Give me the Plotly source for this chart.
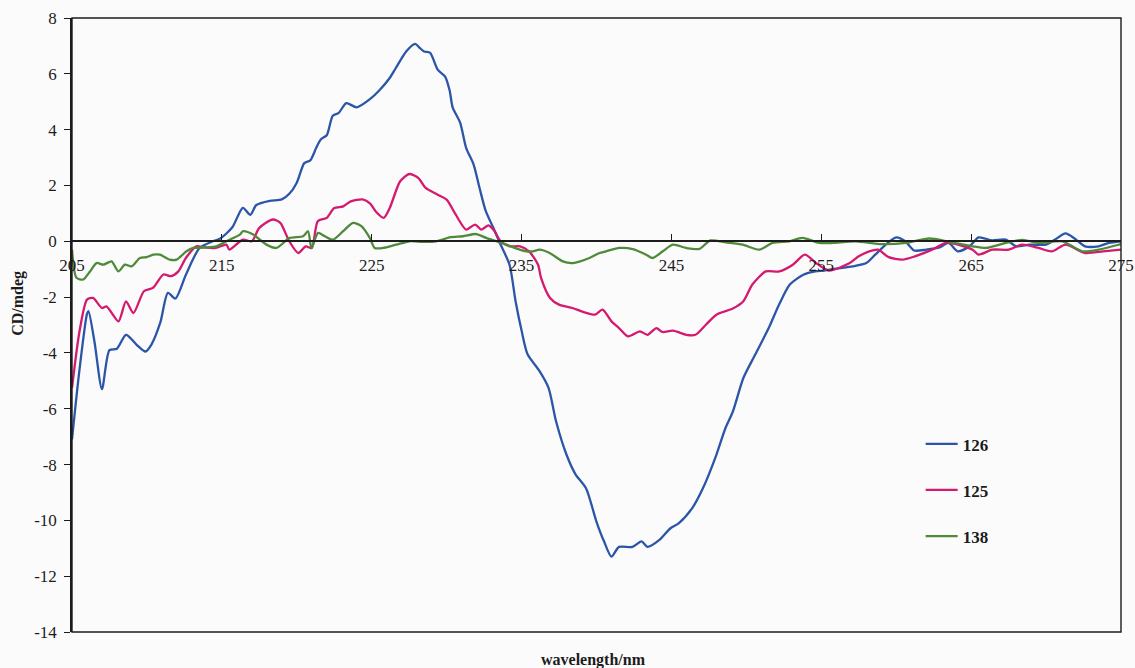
import plotly.graph_objects as go

# CD spectra of three samples (wavelength in nm, ellipticity in mdeg)
wl_126 = [205.0, 205.5, 206.0, 206.1, 206.5, 207.0, 207.5, 208.0, 208.6, 209.3, 209.9, 210.3, 210.9,
          211.4, 211.9, 212.6, 213.5, 214.4, 214.9, 215.7, 216.4, 216.9, 217.3, 218.2, 219.0, 219.5,
          220.0, 220.5, 220.9, 221.3, 221.6, 222.0, 222.4, 222.8, 223.3, 224.0, 224.9, 225.5, 226.2,
          226.6, 227.3, 227.9, 228.2, 228.5, 228.9, 229.4, 229.9, 230.2, 230.4, 230.9, 231.3, 231.8,
          232.2, 232.6, 233.1, 233.5, 234.2, 234.6, 235.0, 235.4, 236.2, 236.8, 237.3, 238.0, 238.6,
          239.3, 240.0, 240.5, 241.0, 241.5, 242.4, 243.0, 243.4, 244.2, 244.9, 245.5, 246.4, 247.1,
          248.0, 248.6, 249.1, 249.8, 250.6, 251.5, 252.2, 252.9, 253.8, 254.6, 255.2, 256.0, 257.1,
          258.0, 258.6, 259.3, 260.0, 260.6, 261.2, 262.0, 262.9, 263.5, 264.1, 264.9, 265.5, 266.4,
          267.3, 268.0, 268.9, 270.0, 270.6, 271.3, 272.0, 272.6, 273.5, 274.2, 275.0]
cd_126 = [-7.1, -4.6, -2.6, -2.5, -3.6, -5.3, -3.9, -3.85, -3.35, -3.7, -3.95, -3.7, -2.9,
          -1.85, -2.05, -1.2, -0.25, 0.0, 0.1, 0.5, 1.2, 0.95, 1.3, 1.45, 1.5, 1.7,
          2.1, 2.8, 2.9, 3.35, 3.65, 3.8, 4.5, 4.6, 4.95, 4.8, 5.1, 5.4, 5.85,
          6.2, 6.8, 7.07, 6.93, 6.8, 6.75, 6.15, 5.9, 5.4, 4.8, 4.25, 3.35, 2.75,
          1.9, 1.1, 0.5, 0.0, -0.85, -2.15, -3.2, -4.05, -4.65, -5.25, -6.45, -7.65, -8.35,
          -8.85, -10.05, -10.75, -11.3, -10.95, -10.95, -10.75, -10.95, -10.7, -10.3, -10.1, -9.55, -8.85,
          -7.65, -6.7, -6.1, -4.9, -4.05, -3.1, -2.25, -1.55, -1.2, -1.08, -1.05, -0.98, -0.9,
          -0.78, -0.48, -0.12, 0.14, 0.0, -0.33, -0.3, -0.22, -0.06, -0.36, -0.18, 0.14, 0.03,
          0.06, -0.18, -0.12, -0.12, 0.06, 0.28, 0.06, -0.18, -0.18, -0.06, 0.0]

wl_125 = [205.0, 205.5, 206.0, 206.4, 207.0, 207.3, 208.1, 208.6, 209.1, 209.8, 210.4, 211.1, 211.6,
          212.1, 212.6, 213.3, 213.8, 214.6, 215.3, 215.5, 216.4, 217.0, 217.5, 218.4, 218.9, 219.5,
          220.1, 220.6, 221.0, 221.4, 222.0, 222.5, 223.1, 223.6, 224.4, 224.9, 225.3, 225.8, 226.2,
          226.9, 227.5, 228.1, 228.6, 229.4, 230.0, 230.6, 231.3, 231.9, 232.3, 232.8, 233.2, 233.6,
          234.2, 234.9, 235.5, 236.1, 236.3, 236.9, 237.5, 238.4, 239.1, 239.9, 240.4, 241.0, 241.5,
          242.1, 242.9, 243.4, 244.0, 244.4, 245.1, 246.0, 246.6, 247.3, 248.0, 249.1, 249.8, 250.4,
          251.3, 252.2, 253.1, 253.9, 254.7, 255.5, 256.9, 257.5, 258.2, 258.8, 259.5, 260.4, 261.2,
          262.4, 263.3, 264.0, 265.1, 265.5, 266.4, 267.5, 268.4, 269.5, 270.4, 271.3, 272.6, 273.8,
          275.0]
cd_125 = [-5.25, -3.23, -2.09, -2.03, -2.39, -2.33, -2.87, -2.15, -2.57, -1.79, -1.67, -1.19, -1.25,
          -1.08, -0.6, -0.18, -0.22, -0.24, -0.12, -0.3, 0.06, 0.0, 0.48, 0.78, 0.66, 0.0,
          -0.42, -0.18, -0.24, 0.72, 0.84, 1.19, 1.25, 1.43, 1.5, 1.35, 1.05, 0.84, 1.19,
          2.15, 2.41, 2.27, 1.91, 1.67, 1.49, 0.96, 0.42, 0.6, 0.42, 0.57, 0.36, 0.0,
          -0.18, -0.18, -0.36, -0.84, -1.31, -2.03, -2.27, -2.39, -2.53, -2.63, -2.45, -2.87, -3.11,
          -3.41, -3.23, -3.35, -3.11, -3.25, -3.2, -3.35, -3.35, -2.99, -2.63, -2.41, -2.15, -1.55,
          -1.08, -1.08, -0.84, -0.48, -0.8, -1.05, -0.78, -0.54, -0.36, -0.3, -0.57, -0.66, -0.55,
          -0.3, -0.06, -0.1, -0.3, -0.48, -0.3, -0.3, -0.12, -0.24, -0.36, -0.12, -0.42, -0.36,
          -0.3]

wl_138 = [205.0, 205.3, 205.75, 206.2, 206.64, 207.09, 207.64, 208.09, 208.53, 208.98, 209.53, 209.98,
          210.42, 210.87, 211.53, 211.98, 212.64, 213.09, 213.98, 214.64, 215.31, 216.2, 216.42, 217.09,
          217.98, 218.64, 219.53, 220.42, 220.75, 220.98, 221.42, 221.87, 222.42, 223.09, 223.75, 224.31,
          224.87, 225.2, 225.75, 226.64, 227.53, 228.42, 229.31, 230.2, 231.09, 231.98, 232.64, 233.31,
          233.98, 234.87, 235.31, 235.75, 236.2, 236.87, 237.75, 238.42, 239.53, 240.2, 240.64, 241.53,
          242.42, 243.31, 243.75, 244.42, 245.09, 245.98, 246.87, 247.6, 248.64, 249.75, 250.87, 251.75,
          252.87, 253.75, 254.87, 255.75, 257.31, 258.87, 260.64, 262.2, 263.53, 265.09, 265.98, 267.31,
          268.42, 269.53, 271.09, 272.42, 273.53, 274.87, 275.0]
cd_138 = [-0.3, -1.31, -1.37, -1.08, -0.78, -0.84, -0.72, -1.08, -0.84, -0.9, -0.6, -0.57,
          -0.48, -0.48, -0.66, -0.66, -0.36, -0.24, -0.22, -0.18, 0.0, 0.24, 0.36, 0.24,
          -0.12, -0.24, 0.12, 0.18, 0.36, -0.24, 0.3, 0.18, 0.06, 0.36, 0.66, 0.54,
          0.12, -0.24, -0.24, -0.12, 0.0, -0.02, 0.0, 0.14, 0.18, 0.26, 0.12, 0.0,
          -0.12, -0.3, -0.36, -0.36, -0.3, -0.42, -0.72, -0.78, -0.6, -0.42, -0.36, -0.24,
          -0.28, -0.48, -0.6, -0.36, -0.12, -0.24, -0.27, 0.03, -0.04, -0.12, -0.3, -0.06,
          0.0, 0.12, -0.06, -0.06, 0.0, -0.1, -0.06, 0.1, -0.02, -0.18, -0.24, -0.06,
          0.05, -0.06, 0.0, -0.36, -0.3, -0.12, -0.1]

series = [
    ("126", wl_126, cd_126, "#2b56a8"),
    ("125", wl_125, cd_125, "#d41a6e"),
    ("138", wl_138, cd_138, "#4e8a3a"),
]

x_ticks = [205, 215, 225, 235, 245, 255, 265, 275]
y_ticks = [8, 6, 4, 2, 0, -2, -4, -6, -8, -10, -12, -14]

FONT = "Times New Roman, Liberation Serif, DejaVu Serif, serif"
INK = "#1c1c1c"

fig = go.Figure()
for name, wl, cd, color in series:
    fig.add_trace(go.Scatter(
        x=wl, y=cd, name=name, mode="lines", legendgroup=name,
        line=dict(color=color, width=2.3, shape="spline", smoothing=0.7),
    ))

fig.update_layout(
    width=1135, height=668,
    margin=dict(l=72, r=14, t=18, b=36, autoexpand=False),
    paper_bgcolor="#fcfbfb", plot_bgcolor="#fcfbfb",
    font=dict(family=FONT, size=17, color=INK),
    showlegend=True,
    legend=dict(
        x=0.809, y=0.335, xanchor="left", yanchor="top",
        bgcolor="rgba(0,0,0,0)", tracegroupgap=21,
        font=dict(family=FONT, size=17, color=INK, weight="bold"),
        itemwidth=32,
    ),
    xaxis=dict(
        range=[205, 275], tickvals=x_ticks, ticktext=[str(t) for t in x_ticks],
        anchor="free", position=14 / 22, automargin=False,
        showline=True, linecolor=INK, linewidth=1.5,
        ticks="inside", ticklen=7, tickcolor=INK, tickwidth=1.3,
        ticklabelstandoff=9,
        tickfont=dict(family=FONT, size=17, color=INK),
        showgrid=False, zeroline=False,
    ),
    yaxis=dict(
        range=[-14, 8], tickvals=y_ticks, ticktext=[str(t) for t in y_ticks],
        automargin=False,
        showline=True, linecolor=INK, linewidth=1.5,
        ticks="outside", ticklen=6, tickcolor=INK, tickwidth=1.3,
        ticklabelstandoff=4,
        tickfont=dict(family=FONT, size=17, color=INK),
        showgrid=False, zeroline=False,
    ),
    shapes=[dict(type="rect", xref="paper", yref="paper", x0=0, y0=0, x1=1, y1=1,
                 line=dict(color=INK, width=1.4), fillcolor="rgba(0,0,0,0)", layer="above")],
    annotations=[
        dict(text="<b>CD/mdeg</b>", xref="paper", yref="paper", x=-0.0515, y=0.536,
             xanchor="center", yanchor="middle",
             textangle=-90, showarrow=False, font=dict(family=FONT, size=16, color=INK)),
        dict(text="<b>wavelength/nm</b>", xref="paper", yref="paper", x=0.497, y=-0.046,
             xanchor="center", yanchor="middle",
             showarrow=False, font=dict(family=FONT, size=16, color=INK)),
    ],
)

fig.write_html("out.html")
